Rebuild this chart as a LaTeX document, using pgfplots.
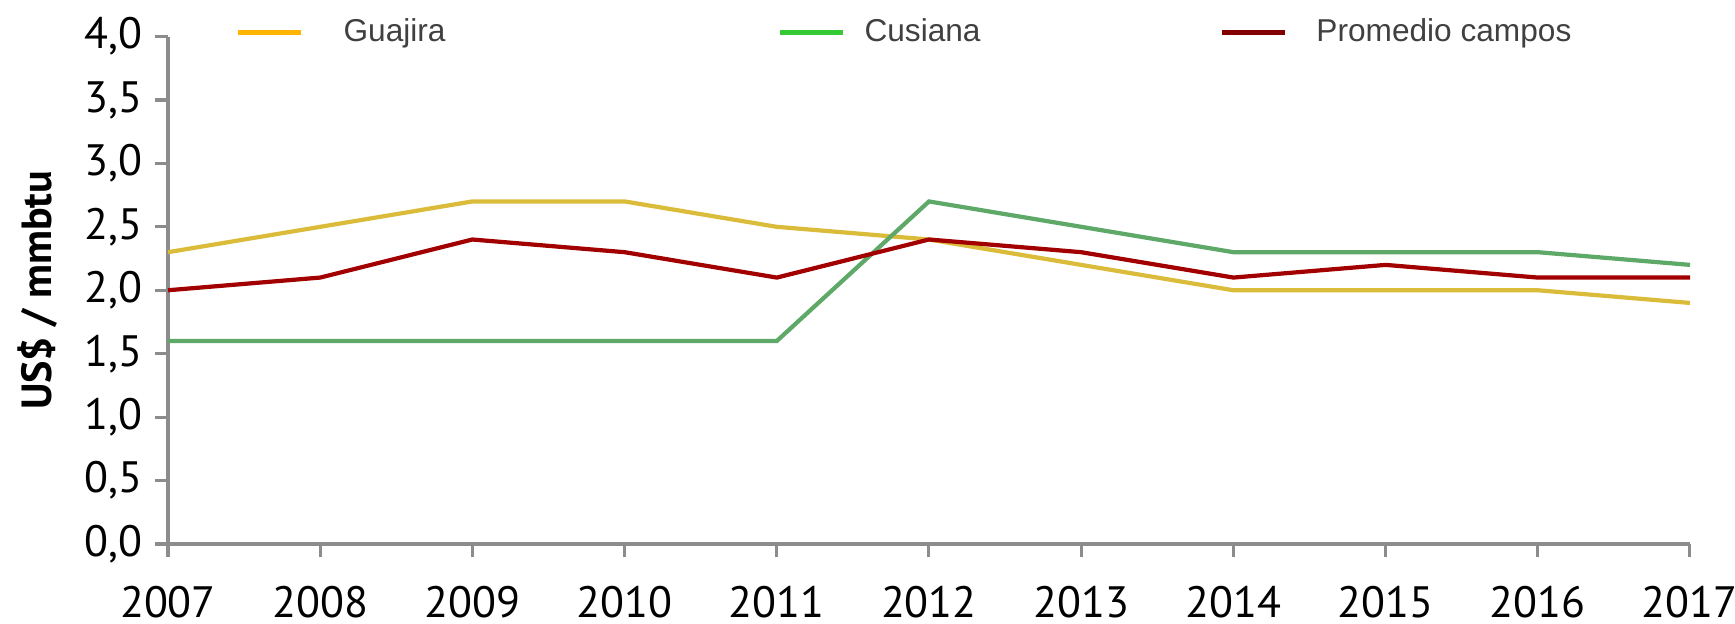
\documentclass[border=0pt]{standalone}
\usepackage{fontspec}
\setmainfont{Liberation Sans}
\newfontfamily\tickfont{PT Sans}
\usepackage{pgfplots}
\pgfplotsset{compat=1.18}
\definecolor{guajira}{HTML}{DBBC3A}
\definecolor{cusiana}{HTML}{5EA868}
\definecolor{promedio}{HTML}{A20000}
\definecolor{legG}{HTML}{FFB400}
\definecolor{legC}{HTML}{36C936}
\definecolor{legP}{HTML}{820000}
\definecolor{axisgray}{HTML}{8C8C8C}
\definecolor{legtext}{HTML}{404040}

\begin{document}
\begin{tikzpicture}
\useasboundingbox (-1.68,-0.79) rectangle (15.67,5.44);
\begin{axis}[
    scale only axis,
    width=15.22cm, height=5.075cm,
    xmin=2007, xmax=2017, ymin=0, ymax=4,
    xtick={2007,...,2017},
    ytick={0,0.5,...,4},
    axis lines*=left,
    xtick pos=left, ytick pos=left,
    axis line style={axisgray, line width=0.9pt},
    tick style={axisgray, line width=0.9pt},
    tick align=outside,
    major tick length=0.13cm,
    clip=false,
    /pgf/number format/assume math mode=true,
    ticklabel style={font=\tickfont\fontsize{12.5}{14}\selectfont, text=black},
    xticklabel style={/pgf/number format/1000 sep={}, yshift=-0.17cm},
    yticklabel style={/pgf/number format/.cd, fixed, fixed zerofill, precision=1, use comma},
    ylabel={US\$ / mmbtu},
    ylabel style={font=\tickfont\bfseries\fontsize{12}{14}\selectfont,
        at={([xshift=-1.30cm]rel axis cs:0,0.5)}, anchor=center},
    legend columns=3,
    legend style={draw=none, fill=none, at={(rel axis cs:0,1)}, anchor=west,
        xshift=0.67cm, yshift=0.04cm, font=\fontsize{9}{11}\selectfont, text=legtext,
        inner sep=0pt, column sep=0pt, nodes={inner sep=0pt}},
    legend image code/.code={\draw[#1, line width=1.4pt] (0cm,0cm) -- (0.63cm,0cm);},
]
\addplot[guajira, line width=1.2pt, forget plot] coordinates {
    (2007,2.3) (2008,2.5) (2009,2.7) (2010,2.7) (2011,2.5) (2012,2.4)
    (2013,2.2) (2014,2.0) (2015,2.0) (2016,2.0) (2017,1.9)
};
\addplot[cusiana, line width=1.2pt, forget plot] coordinates {
    (2007,1.6) (2008,1.6) (2009,1.6) (2010,1.6) (2011,1.6) (2012,2.7)
    (2013,2.5) (2014,2.3) (2015,2.3) (2016,2.3) (2017,2.2)
};
\addplot[promedio, line width=1.2pt, forget plot] coordinates {
    (2007,2.0) (2008,2.1) (2009,2.4) (2010,2.3) (2011,2.1) (2012,2.4)
    (2013,2.3) (2014,2.1) (2015,2.2) (2016,2.1) (2017,2.1)
};
\addlegendimage{legG}
\addlegendentry{\makebox[4.74cm][l]{\hspace{0.40cm}Guajira}}
\addlegendimage{legC}
\addlegendentry{\makebox[3.74cm][l]{\hspace{0.19cm}Cusiana}}
\addlegendimage{legP}
\addlegendentry{\hspace{0.29cm}Promedio campos}
\end{axis}
\end{tikzpicture}
\end{document}
